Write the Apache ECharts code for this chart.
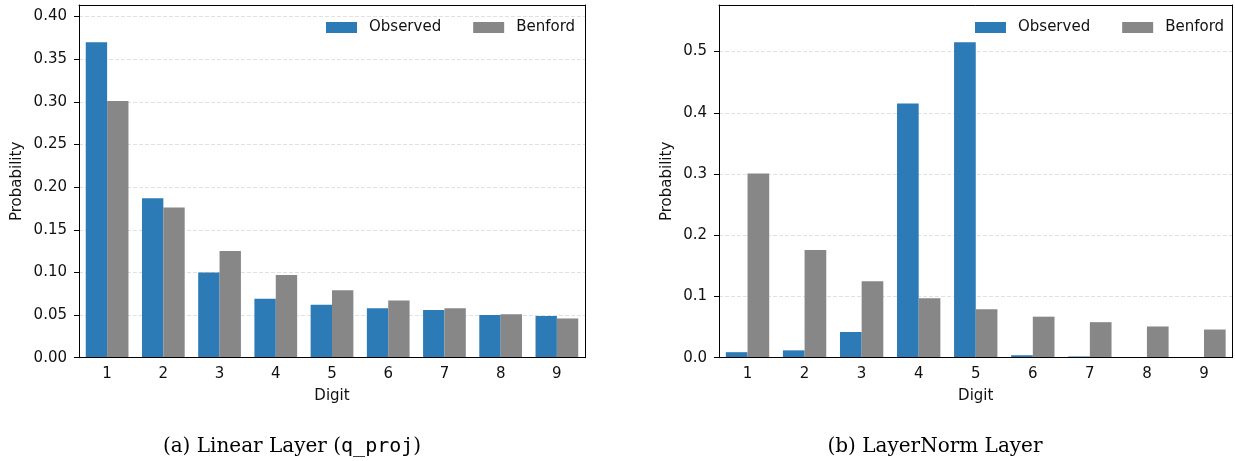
<!DOCTYPE html>
<html>
<head>
<meta charset="utf-8">
<script src="https://cdn.jsdelivr.net/npm/echarts@6/dist/echarts.min.js"></script>
<style>
html,body{margin:0;padding:0;background:#fff;}
#chart{width:1235px;height:461px;}
</style>
</head>
<body>
<div id="chart"></div>
<script>
const categories = ['1','2','3','4','5','6','7','8','9'];
const linearObserved = [0.370, 0.187, 0.100, 0.069, 0.062, 0.058, 0.056, 0.050, 0.049];
const linearBenford = [0.301, 0.176, 0.125, 0.097, 0.079, 0.067, 0.058, 0.051, 0.046];
const layerNormObserved = [0.009, 0.012, 0.042, 0.415, 0.515, 0.004, 0.002, 0.0, 0.0];
const layerNormBenford = [0.301, 0.176, 0.125, 0.097, 0.079, 0.067, 0.058, 0.051, 0.046];
const seriesNames = ['Observed', 'Benford'];
const captions = ['(a) Linear Layer (', 'q_proj', ')', '(b) LayerNorm Layer'];

const BLUE = '#2c7bb6';
const GRAY = '#878787';
const FONT = 'DejaVu Sans';
const TXT = '#111';

function xAxisFor(gi) {
  return {
    type: 'category', gridIndex: gi, data: categories,
    boundaryGap: true, z: 5,
    name: 'Digit', nameLocation: 'middle', nameGap: 31,
    nameTextStyle: {fontFamily: FONT, fontSize: 15, color: TXT},
    axisLine: {lineStyle: {color: '#000', width: 1}},
    axisTick: {alignWithLabel: true, length: 5, lineStyle: {color: '#000'}},
    axisLabel: {fontFamily: FONT, fontSize: 15, color: TXT, margin: 9},
    splitLine: {show: false}
  };
}
function frameXAxis(gi) {
  return {
    type: 'category', gridIndex: gi, data: categories, position: 'top', z: 5,
    axisLine: {show: true, onZero: false, lineStyle: {color: '#000', width: 1}},
    axisTick: {show: false}, axisLabel: {show: false}, splitLine: {show: false}
  };
}
function yAxisFor(gi, max, interval, digits, gap) {
  return {
    type: 'value', gridIndex: gi, min: 0, max: max, interval: interval,
    name: 'Probability', nameLocation: 'middle', nameGap: gap,
    nameTextStyle: {fontFamily: FONT, fontSize: 15, color: TXT},
    axisLine: {show: true, lineStyle: {color: '#000', width: 1}},
    axisTick: {show: true, length: 5, lineStyle: {color: '#000'}},
    axisLabel: {fontFamily: FONT, fontSize: 15, color: TXT, margin: 12, showMaxLabel: false,
      formatter: v => v.toFixed(digits)},
    splitLine: {show: true, showMaxLine: false, showMinLine: false,
      lineStyle: {color: '#d9d9d9', type: [4, 2], width: 0.8}}
  };
}
function frameYAxis(gi, max) {
  return {
    type: 'value', gridIndex: gi, min: 0, max: max, position: 'right', z: 5,
    axisLine: {show: true, onZero: false, lineStyle: {color: '#000', width: 1}},
    axisTick: {show: false}, axisLabel: {show: false}, splitLine: {show: false}
  };
}
function legendFor(left) {
  return {
    left: left, top: 15, orient: 'horizontal',
    data: seriesNames,
    itemWidth: 31, itemHeight: 11, itemGap: 32,
    icon: 'rect',
    selectedMode: false,
    textStyle: {fontFamily: FONT, fontSize: 15, color: TXT, padding: [0, 0, 0, 7]}
  };
}
function barSeries(name, data, gi, color) {
  return {
    type: 'bar', name: name, data: data,
    xAxisIndex: gi, yAxisIndex: gi,
    barWidth: '38%', barGap: '0%',
    itemStyle: {color: color},
    animation: false
  };
}

const chart = echarts.init(document.getElementById('chart'), null, {renderer: 'canvas'});
chart.setOption({
  animation: false,
  backgroundColor: '#fff',
  grid: [
    {left: 79, top: 5, width: 506, height: 352.7, show: false},
    {left: 719, top: 5, width: 513.5, height: 352.7, show: false}
  ],
  legend: [legendFor(321), legendFor(970)],
  xAxis: [xAxisFor(0), xAxisFor(1), frameXAxis(0), frameXAxis(1)],
  yAxis: [yAxisFor(0, 0.4136, 0.05, 2, 54), yAxisFor(1, 0.576, 0.1, 1, 44),
          frameYAxis(0, 0.4136), frameYAxis(1, 0.576)],
  series: [
    barSeries(seriesNames[0], linearObserved, 0, BLUE),
    barSeries(seriesNames[1], linearBenford, 0, GRAY),
    barSeries(seriesNames[0], layerNormObserved, 1, BLUE),
    barSeries(seriesNames[1], layerNormBenford, 1, GRAY)
  ],
  graphic: [
    {type: 'text', x: 292, y: 447, style: {
      text: '{a|' + captions[0] + '}{m|' + captions[1] + '}{a|' + captions[2] + '}',
      align: 'center', verticalAlign: 'middle',
      rich: {
        a: {fontFamily: 'DejaVu Serif', fontSize: 20, fill: '#000'},
        m: {fontFamily: 'DejaVu Sans Mono', fontSize: 20, fill: '#000'}
      }
    }},
    {type: 'text', x: 935, y: 447, style: {
      text: captions[3], align: 'center', verticalAlign: 'middle',
      fontFamily: 'DejaVu Serif', fontSize: 20, fill: '#000'
    }}
  ]
});
</script>
</body>
</html>
